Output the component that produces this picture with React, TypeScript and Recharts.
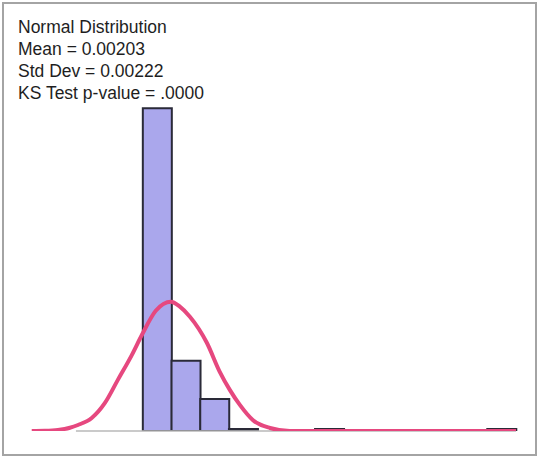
import { ComposedChart, Bar, Line, XAxis, YAxis, ReferenceLine } from 'recharts';

// histogram bins, in bin-index units (bin i spans [i, i+1])
const binIds = [-4, -3, -2, -1, 0, 1, 2, 3, 4, 5, 6, 7, 8, 9, 10, 11, 12];
const binCounts = [null, null, null, null, 161, 35, 16, 1, null, null, 1, null, null, null, null, null, 1];

// fitted normal curve
const curveX = [-3.87, -3.41, -2.96, -2.54, -2.26, -1.78, -1.32, -0.87, -0.38, -0.03, 0.45, 0.98, 1.29, 1.64, 2.23, 2.68, 3.03, 3.38, 3.83, 4.43, 5.12, 13.0];
const curveY = [0, 0.1, 0.5, 1.6, 3, 6.5, 14, 25.5, 38, 48, 60, 64.5, 62, 57, 44, 29.5, 20.5, 13, 5.5, 1.5, 0, 0];

const statLines = ['Normal Distribution', 'Mean = 0.00203', 'Std Dev = 0.00222', 'KS Test p-value = .0000'];

const bins = binIds.map((b, i) => ({ bin: b, count: binCounts[i] }));
const curve = curveX.map((x, i) => ({ x, y: curveY[i] }));

export default function App() {
  return (
    <div style={{ position: 'absolute', left: 0, top: 0, width: 539, height: 458, background: '#fff' }}>
      <div
        style={{
          position: 'absolute', left: 2, top: 2, width: 535, height: 454,
          border: '2px solid #a4a4a4', boxSizing: 'border-box',
        }}
      />
      <ComposedChart
        width={539}
        height={458}
        data={bins}
        margin={{ top: 30, right: 23, bottom: 27, left: 28 }}
        barCategoryGap={0}
        barGap={0}
      >
        <XAxis xAxisId="bins" dataKey="bin" type="category" hide />
        <XAxis xAxisId="num" dataKey="x" type="number" domain={[-4, 13]} allowDataOverflow hide />
        <YAxis domain={[0, 200]} allowDataOverflow hide />
        <ReferenceLine
          xAxisId="num"
          segment={[{ x: -2.33, y: 0 }, { x: 13, y: 0 }]}
          stroke="#b8b8b8"
          strokeWidth={1.5}
        />
        <Bar
          xAxisId="bins"
          dataKey="count"
          fill="#aaa7ec"
          stroke="#2a2a38"
          strokeWidth={2}
          isAnimationActive={false}
        />
        <Line
          xAxisId="num"
          data={curve}
          dataKey="y"
          type="monotone"
          stroke="#e6487f"
          strokeWidth={4}
          dot={false}
          activeDot={false}
          isAnimationActive={false}
        />
      </ComposedChart>
      <div
        style={{
          position: 'absolute', left: 18, top: 16,
          fontFamily: 'Arial, "Liberation Sans", sans-serif', fontSize: 17.5, lineHeight: '22px', color: '#1e1e1e',
        }}
      >
        {statLines.map((t) => (
          <div key={t}>{t}</div>
        ))}
      </div>
    </div>
  );
}
